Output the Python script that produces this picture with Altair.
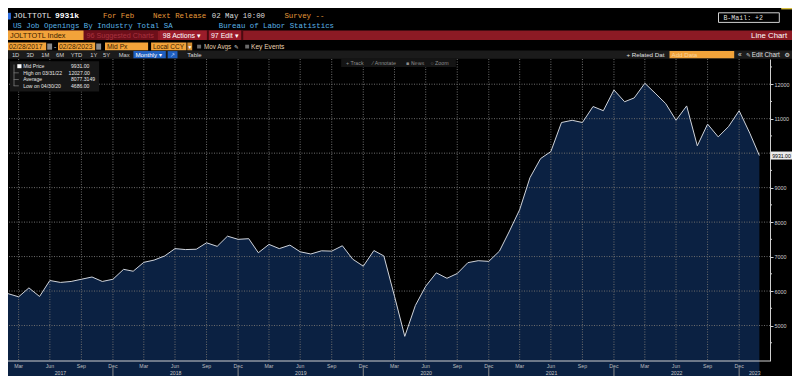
import altair as alt
import pandas as pd

# ---------------- data ----------------
values = [
    5925, 5833, 6092, 5842, 6306, 6250, 6278, 6342, 6408, 6278, 6342,                 # 2017 Feb-Dec
    6630, 6575, 6833, 6898, 7019, 7231, 7203, 7213, 7400, 7297, 7592, 7500,           # 2018
    7519, 7111, 7353, 7231, 7333, 7139, 7075, 7167, 7158, 7314, 6926, 6722,           # 2019
    7175, 7019, 5850, 4686, 5583, 6139, 6528, 6370, 6509, 6824, 6880, 6861,           # 2020
    7158, 7713, 8361, 9287, 9842, 10047, 10889, 10953, 10889, 11353, 11231, 11833,    # 2021
    11491, 11602, 12027, 11741, 11436, 10953, 11370, 10213, 10842, 10472, 10769, 11231,  # 2022
    10580, 9931,                                                                     # 2023 Jan-Feb
]
dates = pd.date_range("2017-02-28", periods=len(values), freq=pd.offsets.MonthEnd())

y_ticks = [5000, 6000, 7000, 8000, 9000, 10000, 11000, 12000]
y_minor = [4500, 5500, 6500, 7500, 8500, 9500, 10500, 11500, 12500]
years = [2017, 2018, 2019, 2020, 2021, 2022, 2023]
quarter_months = [3, 6, 9, 12]
quarter_days = {3: 31, 6: 30, 9: 30, 12: 31}

HIGH, HIGH_DATE = 12027.00, "03/31/22"
AVERAGE = 8077.3149
LOW, LOW_DATE = 4686.00, "04/30/20"
LAST = values[-1]

DOMAIN_START = pd.Timestamp("2017-02-28")
DOMAIN_END = pd.Timestamp("2023-03-31")
Y_DOMAIN = [3971, 12731]

# ---------------- layout ----------------
SX, SY = 784 / 800, 368 / 384
TOP, PW, PH = 51, 762, 302

def X(x):
    return round(x * SX, 1)

def Y(y):
    return round(y * SY - TOP, 1)

SANS = "Liberation Sans"
MONO = "Liberation Mono, DejaVu Sans Mono"
SYM = "DejaVu Sans"
ORANGE_TXT = "#e79a3a"
ORANGE_BOX = "#f2a33a"
BOX_TXT = "#3a2200"
NAVY = "#0b2142"
LINE = "#cfd3da"
GRID = "#6c6c6c"
AXIS = "#cfcfcf"

one = pd.DataFrame({"o": [0]})

def T(s, x, y, color, size=7.0, font=SANS, align="left", weight="normal"):
    return alt.Chart(one).mark_text(
        text=s, align=align, baseline="middle", font=font, fontSize=size,
        fontWeight=weight, color=color
    ).encode(x=alt.value(X(x)), y=alt.value(Y(y)))

def R(x1, y1, x2, y2, fill, stroke=None):
    kw = dict(fill=fill)
    if stroke:
        kw.update(stroke=stroke, strokeWidth=1)
    return alt.Chart(one).mark_rect(**kw).encode(
        x=alt.value(X(x1)), x2=alt.value(X(x2)), y=alt.value(Y(y1)), y2=alt.value(Y(y2))
    )

# ---------------- data frames ----------------
df = pd.DataFrame({"date": dates, "value": values})
q_dates = [pd.Timestamp(year=y, month=m, day=quarter_days[m])
           for y in years[:-1] for m in quarter_months]
xgrid = pd.DataFrame({"date": q_dates, "label": [d.strftime("%b") for d in q_dates]})
ygrid = pd.DataFrame({"value": y_ticks})
yminor = pd.DataFrame({"value": y_minor})
seps = pd.DataFrame({"date": [pd.Timestamp(year=y, month=12, day=31) for y in years[:-1]]})

def year_mid(y):
    s = max(pd.Timestamp(year=y, month=1, day=1), DOMAIN_START)
    e = min(pd.Timestamp(year=y, month=12, day=31), DOMAIN_END)
    return s + (e - s) / 2

yrs = pd.DataFrame({"date": [year_mid(y) for y in years], "label": [str(y) for y in years]})
last_df = pd.DataFrame({"value": [LAST], "label": [f"{LAST:.2f}"]})

xscale = alt.Scale(domain=[alt.DateTime(year=2017, month=2, date=28),
                           alt.DateTime(year=2023, month=3, date=31)], nice=False)
yscale = alt.Scale(domain=Y_DOMAIN, nice=False, zero=False)

yaxis = alt.Axis(
    orient="right", values=y_ticks, format="d", labelFontSize=5.4, labelFont=SANS,
    labelColor=AXIS, tickSize=3, tickColor=AXIS, domainColor=AXIS,
    labelPadding=1, grid=False, title=None,
    labelExpr=f"abs(datum.value - {LAST}) < 250 ? '' : datum.label",
)

def XE(field="date"):
    return alt.X(f"{field}:T", scale=xscale, axis=None)

def YE(field="value"):
    return alt.Y(f"{field}:Q", scale=yscale, axis=yaxis)

layers = []

# ---------------- header ----------------
layers += [
    R(0, 5, 3, 12, "#2f6fe0"),
    T("JOLTTOTL", 5, 8.5, "#e6e6e6", 8.0, MONO),
    T(f"{LAST:.0f}k", 48, 8.5, "#ffffff", 8.0, MONO, weight="bold"),
    T("For Feb", 97, 8.5, ORANGE_TXT, 7.4, MONO),
    T("Next Release", 148, 8.5, ORANGE_TXT, 7.4, MONO),
    T("02 May 10:00", 208, 8.5, "#dcdcdc", 7.4, MONO),
    T("Survey --", 282, 8.5, ORANGE_TXT, 7.4, MONO),
    R(725, 5, 787, 15, "#000000", stroke="#d0d0d0"),
    T("B-Mail: +2", 730, 10.2, "#dcdcdc", 6.6, MONO),
    R(789, 0, 800, 1.5, "#d8c040"),
    T("US Job Openings By Industry Total SA", 5, 18.6, "#5ab4e6", 7.4, MONO),
    T("Bureau of Labor Statistics", 215, 18.6, "#5ab4e6", 7.4, MONO),
]
# row 3 (red bar)
layers += [
    R(0, 23.5, 800, 33.5, "#8c1a24"),
    R(77, 23.5, 153, 33.5, "#6d0f1a"),
    R(0, 23.5, 77, 33.5, ORANGE_BOX),
    T("JOLTTOTL Index", 2, 28.7, BOX_TXT, 7.3, SANS),
    T("96 Suggested Charts", 80, 28.7, "#a8323f", 7.2, SANS),
    R(155, 23.5, 203, 33.5, "#9b1c2a"),
    T("98 Actions ▾", 158, 28.7, "#ffffff", 7.0, SANS),
    R(203, 23.5, 205, 33.5, "#4a0a10"),
    R(205, 23.5, 238, 33.5, "#9b1c2a"),
    T("97 Edit ▾", 207, 28.7, "#ffffff", 7.0, SANS),
    R(238, 23.5, 240, 33.5, "#4a0a10"),
    T("Line Chart", 795, 28.7, "#ffffff", 7.8, SANS, align="right"),
]
# row 4 (inputs)
layers += [
    R(0, 36, 39, 44.5, ORANGE_BOX), T("02/28/2017", 1, 40.4, BOX_TXT, 6.7, SANS),
    R(40, 37, 45, 43.5, "#8a8a8a"),
    T("-", 47, 40.4, "#dddddd", 6.7, SANS),
    R(51, 36, 89, 44.5, ORANGE_BOX), T("02/28/2023", 52, 40.4, BOX_TXT, 6.7, SANS),
    R(90, 37, 95, 43.5, "#8a8a8a"),
    R(99, 36, 143, 44.5, ORANGE_BOX), T("Mid Px", 101, 40.4, BOX_TXT, 6.7, SANS),
    R(146, 36, 182, 44.5, ORANGE_BOX), T("Local CCY", 148, 40.4, BOX_TXT, 6.5, SANS),
    R(183, 36, 188, 44.5, "#d08a30"), T("▾", 185.5, 40.4, "#ffffff", 5.5, SYM, align="center"),
    R(193, 38.3, 197, 42.3, "#6a6a6a"),
    T("Mov Avgs", 200, 40.4, "#e8d2b0", 6.3, SANS),
    T("✎", 230.5, 40.4, "#e0e0e0", 5.5, SYM),
    R(242, 38.3, 246, 42.3, "#6a6a6a"),
    T("Key Events", 248, 40.4, "#e8d2b0", 6.6, SANS),
]
# row 5 (toolbar)
layers += [R(0, 44.5, 800, 53, "#1b1b1b")]
for lab, xx in [("1D", 4), ("3D", 19), ("1M", 34), ("6M", 49), ("YTD", 64),
                ("1Y", 84), ("5Y", 97), ("Max", 113)]:
    layers.append(T(lab, xx, 48.8, "#d0d0d0", 5.8, SANS))
layers += [
    R(128, 45, 161, 52.5, "#1f5fbf"), T("Monthly ▾", 130, 48.8, "#ffffff", 6.2, SANS),
    R(163, 45, 173, 52.5, "#1f5fbf"), T("↗", 168, 48.8, "#bcd4ff", 6.0, SYM, align="center"),
    T("Table", 183, 48.8, "#d8d8d8", 6.0, SANS),
    T("+ Related Dat", 631, 48.8, "#e0e0e0", 6.2, SANS),
    R(675, 45, 741, 52.5, ORANGE_BOX), T("Add Data", 677, 48.8, "#fbd59a", 6.2, SANS),
    T("«", 745, 48.8, "#e0e0e0", 6.5, SANS),
    T("✎", 753, 48.8, "#e0e0e0", 5.5, SYM),
    T("Edit Chart", 759, 48.8, "#e0e0e0", 6.3, SANS),
    T("⚙", 795, 48.8, "#e0e0e0", 6.0, SYM, align="center"),
]

# ---------------- plot ----------------
area = alt.Chart(df).mark_area(color=NAVY, opacity=1).encode(x=XE(), y=YE())
vgrid = alt.Chart(xgrid).mark_rule(color=GRID, strokeDash=[1, 1.5], strokeWidth=1).encode(x=XE())
hgrid = alt.Chart(ygrid).mark_rule(color=GRID, strokeDash=[1, 1.5], strokeWidth=1).encode(y=YE())
line = alt.Chart(df).mark_line(color=LINE, strokeWidth=1).encode(x=XE(), y=YE())
minor = alt.Chart(yminor).mark_rule(color=AXIS, strokeWidth=1).encode(
    y=YE(), x=alt.value(PW), x2=alt.value(PW + 2))
xdomain = alt.Chart(one).mark_rule(color=AXIS, strokeWidth=1).encode(
    x=alt.value(0), x2=alt.value(PW), y=alt.value(PH))
mlab = alt.Chart(xgrid).mark_text(color="#bdbdbd", fontSize=5.2, font=SANS, baseline="middle").encode(
    x=XE(), y=alt.value(PH + 5), text="label:N")
sep = alt.Chart(seps).mark_rule(color="#8a8a8a", strokeWidth=1).encode(
    x=XE(), y=alt.value(PH + 7), y2=alt.value(PH + 15))
ylab = alt.Chart(yrs).mark_text(color="#c4c4c4", fontSize=5.2, font=SANS, baseline="middle").encode(
    x=XE(), y=alt.value(PH + 11.5), text="label:N")
lastbox = alt.Chart(last_df).mark_tick(orient="horizontal", color="#ececec", thickness=8,
                                       size=21, opacity=1).encode(
    y=YE(), x=alt.value(PW + 11.5))
lasttxt = alt.Chart(last_df).mark_text(color="#000000", fontSize=5.2, font=SANS,
                                       baseline="middle", align="center").encode(
    y=YE(), x=alt.value(PW + 11.5), text="label:N")

layers += [area, vgrid, hgrid, line, minor, xdomain, mlab, sep, ylab]

# in-plot overlays: track bar and legend box
layers += [
    R(340, 53, 457, 61.5, "#141414"),
    T("+ Track", 345, 57.3, "#8c8c8c", 5.3, SANS),
    T("⁄ Annotate", 372, 57.3, "#8c8c8c", 5.3, SANS),
    T("▪ News", 406, 57.3, "#8c8c8c", 5.0, SYM),
    T("○ Zoom", 431, 57.3, "#8c8c8c", 5.3, SANS),
    R(2, 55.5, 93, 87, "#171717"),
    R(5.7, 59, 6.5, 81.5, "#7a7a7a"),
    R(5.7, 67.3, 11, 68.0, "#7a7a7a"),
    R(5.7, 74.1, 11, 74.8, "#7a7a7a"),
    R(5.7, 80.9, 11, 81.6, "#7a7a7a"),
    R(9.5, 58.6, 13.8, 62.8, "#ffffff"),
    T("Mid Price", 15.5, 60.8, "#e6e6e6", 5.1, SANS),
    T(f"{LAST:.2f}", 64.3, 60.8, "#e6e6e6", 5.1, SANS),
    T(f"High on {HIGH_DATE}", 15.5, 67.6, "#e6e6e6", 5.1, SANS),
    T(f"{HIGH:.2f}", 61.8, 67.6, "#e6e6e6", 5.1, SANS),
    T("Average", 15.5, 74.4, "#e6e6e6", 5.1, SANS),
    T(f"{AVERAGE:.4f}", 64.3, 74.4, "#e6e6e6", 5.1, SANS),
    T(f"Low on {LOW_DATE}", 15.5, 81.2, "#e6e6e6", 5.1, SANS),
    T(f"{LOW:.2f}", 64.3, 81.2, "#e6e6e6", 5.1, SANS),
]
layers += [lastbox, lasttxt]

chart = alt.layer(*layers).properties(
    width=PW, height=PH,
    autosize=alt.AutoSizeParams(type="none"),
    padding={"left": 0, "top": TOP, "right": 22, "bottom": 15},
    background="#000000",
).configure_view(strokeWidth=0)

chart.save("out.html", embed_options={"renderer": "svg", "actions": False})
